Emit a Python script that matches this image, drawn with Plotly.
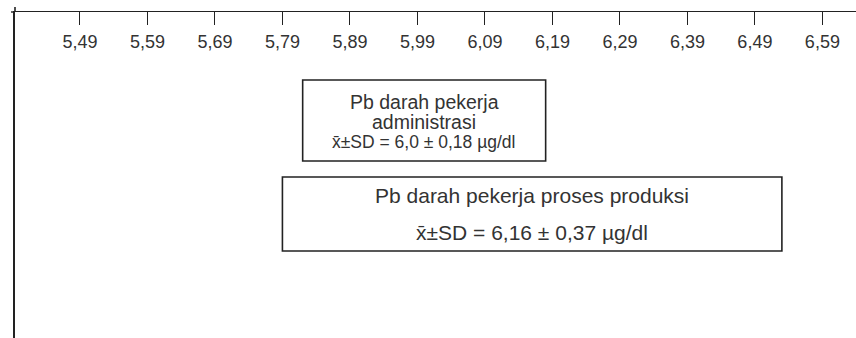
import plotly.graph_objects as go

# Axis ticks (µg/dl)
tick_values = [5.49, 5.59, 5.69, 5.79, 5.89, 5.99, 6.09, 6.19, 6.29, 6.39, 6.49, 6.59]

# Group summaries: mean and standard deviation of blood lead (µg/dl)
groups = ["administrasi", "proses produksi"]
means = [6.0, 6.16]
sds = [0.18, 0.37]
mean_labels = ["6,0", "6,16"]
sd_labels = ["0,18", "0,37"]

FONT = "Liberation Sans, Arial, sans-serif"
INK = "#222222"
TXT = "#333333"

fig = go.Figure()
fig.add_trace(go.Scatter(x=[tick_values[0]], y=[300], mode="markers",
                         marker=dict(opacity=0), hoverinfo="skip", showlegend=False))

# y axis measured in screen rows from the top of the window
box_rows = [(80, 161), (177, 251)]
text_rows = [
    [(102, "Pb darah pekerja"), (122, "administrasi"),
     (142, "x\u0304±SD = {} ± {} µg/dl")],
    [(195, "Pb darah pekerja proses produksi"),
     (232, "x\u0304±SD = {} ± {} µg/dl")],
]
text_sizes = [[19.5, 19.5, 17.5], [21, 21]]

for i in range(len(groups)):
    lo = means[i] - sds[i]
    hi = means[i] + sds[i]
    top, bot = box_rows[i]
    fig.add_shape(type="rect", xref="x", yref="y", x0=lo, x1=hi, y0=top, y1=bot,
                  line=dict(color=INK, width=1.6), fillcolor="white", layer="above")
    for (row, txt), sz in zip(text_rows[i], text_sizes[i]):
        if "{}" in txt:
            txt = txt.format(mean_labels[i], sd_labels[i])
        fig.add_annotation(x=(lo + hi) / 2, y=row, xref="x", yref="y", text=txt,
                           showarrow=False, xanchor="center", yanchor="middle",
                           font=dict(family=FONT, size=sz, color=TXT))

# short overhangs where the two axis lines cross
fig.add_shape(type="line", xref="paper", yref="paper", x0=-4 / 841, x1=0, y0=1, y1=1,
              line=dict(color=INK, width=1.4))
fig.add_shape(type="line", xref="paper", yref="paper", x0=0, x1=0, y0=1, y1=1 + 5 / 326,
              line=dict(color=INK, width=1.6))

fig.update_layout(
    width=856, height=338,
    margin=dict(l=15, r=0, t=12, b=0),
    paper_bgcolor="white", plot_bgcolor="white",
    separators=",.",
    showlegend=False,
    xaxis=dict(
        side="top", range=[5.3938, 6.6398],
        tickvals=tick_values, tickformat=".2f",
        ticks="inside", ticklen=13, tickwidth=1.2, tickcolor=INK,
        ticklabelposition="inside", ticklabelstandoff=11,
        tickfont=dict(family=FONT, size=18, color=TXT),
        showline=True, linecolor=INK, linewidth=1.4,
        showgrid=False, zeroline=False, fixedrange=True,
    ),
    yaxis=dict(
        range=[338, 12], showticklabels=False, ticks="",
        showline=True, linecolor=INK, linewidth=1.6,
        showgrid=False, zeroline=False, fixedrange=True,
    ),
)

fig.write_html("out.html")
